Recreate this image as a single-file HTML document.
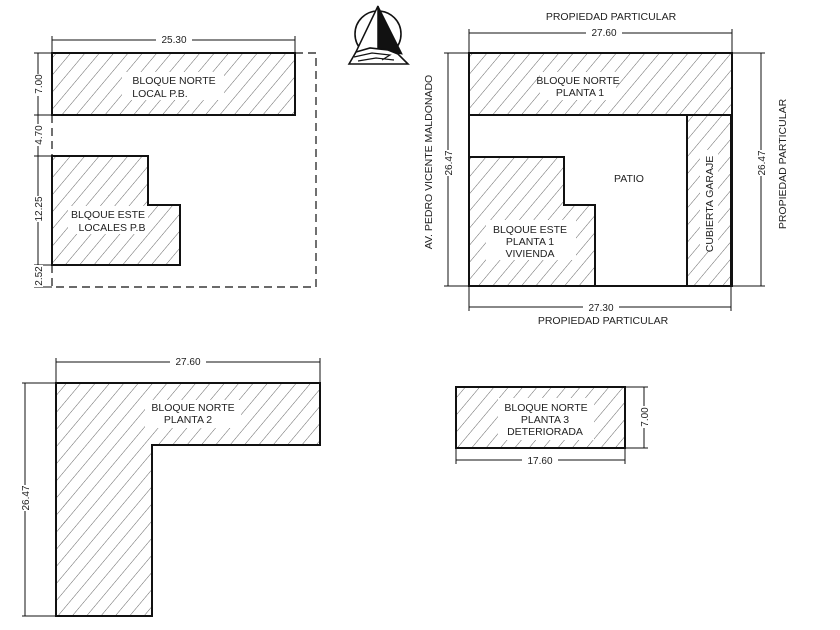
<!DOCTYPE html>
<html><head><meta charset="utf-8"><style>
html,body{margin:0;padding:0;background:#fff}
svg{display:block}
text{font-family:"Liberation Sans",sans-serif;fill:#222}
</style></head><body>
<svg width="840" height="630" viewBox="0 0 840 630" xmlns="http://www.w3.org/2000/svg">
<defs>
<pattern id="h" patternUnits="userSpaceOnUse" width="11" height="11" patternTransform="rotate(40)">
<rect width="11" height="11" fill="#fff"/>
<line x1="0" y1="0" x2="0" y2="11" stroke="#666" stroke-width="1"/>
</pattern>
</defs>
<g stroke="#111" fill="none">
<rect x="52" y="53" width="243" height="62" fill="url(#h)" stroke-width="2"/>
<path d="M52 156 H148 V205 H180 V265 H52 Z" fill="url(#h)" stroke-width="2"/>
<path d="M295 53 H316 V287 H52 V265 M52 115 V156" stroke-dasharray="8,5" stroke-width="1.2"/>
<path d="M52 40 H295 M52 36 V53 M295 36 V53" stroke-width="1"/>
<path d="M38 53 V287 M34 53 H52 M34 115 H52 M34 156 H52 M34 265 H52 M34 287 H52" stroke-width="1"/>
<circle cx="378" cy="34" r="23" stroke-width="1.6"/>
<polygon points="378,6 354,56 378,52" fill="#fff" stroke-width="1.5"/>
<polygon points="378,6 402,54 378,50" fill="#111" stroke-width="1"/>
<path d="M349 64 L356 52 L370 48 L388 50 L398 54 L408 64 Z" fill="#fff" stroke-width="1.6"/>
<path d="M354 57 L372 53 L390 55 L382 60 M358 61 L376 58 L394 60" stroke-width="1.2"/>
<rect x="469" y="53" width="263" height="62" fill="url(#h)" stroke-width="2"/>
<rect x="687" y="115" width="44" height="171" fill="url(#h)" stroke-width="2"/>
<path d="M469 157 H564 V205 H595 V286 H469 Z" fill="url(#h)" stroke-width="2"/>
<rect x="469" y="53" width="263" height="233" stroke-width="2"/>
<path d="M469 33 H732 M469 29 V53 M732 29 V53" stroke-width="1"/>
<path d="M469 307 H731 M469 286 V311 M731 286 V311" stroke-width="1"/>
<path d="M448 53 V286 M444 53 H469 M444 286 H469" stroke-width="1"/>
<path d="M761 53 V286 M732 53 H765 M732 286 H765" stroke-width="1"/>
<path d="M56 383 H320 V445 H152 V616 H56 Z" fill="url(#h)" stroke-width="2"/>
<path d="M56 362 H320 M56 358 V383 M320 358 V383" stroke-width="1"/>
<path d="M25 383 V616 M22 383 H56 M22 616 H56" stroke-width="1"/>
<rect x="456" y="387" width="169" height="61" fill="url(#h)" stroke-width="2"/>
<path d="M456 460 H625 M456 448 V464 M625 448 V464" stroke-width="1"/>
<path d="M644 387 V448 M625 387 H648 M625 448 H648" stroke-width="1"/>
</g>
<g fill="#fff">
<rect x="122" y="72" width="102" height="28"/>
<rect x="68" y="206" width="80" height="28"/>
<rect x="540" y="72" width="76" height="28"/>
<rect x="486" y="220" width="90" height="40"/>
<rect x="145" y="400" width="96" height="28"/>
<rect x="498" y="398" width="96" height="42"/>
<rect x="700" y="150" width="18" height="100"/>
<rect x="156" y="34" width="36" height="10"/><rect x="586" y="27" width="36" height="10"/>
<rect x="583" y="302" width="36" height="10"/><rect x="170" y="356" width="36" height="10"/>
<rect x="522" y="455" width="36" height="10"/>
<rect x="33" y="74" width="10" height="22"/><rect x="33" y="124" width="10" height="22"/>
<rect x="33" y="196" width="10" height="26"/><rect x="33" y="265" width="10" height="22"/>
<rect x="443" y="150" width="10" height="26"/><rect x="756" y="150" width="10" height="26"/>
<rect x="20" y="485" width="10" height="26"/><rect x="639" y="406" width="10" height="22"/>
</g>
<g font-size="10" text-anchor="middle">
<text x="174" y="43">25.30</text>
<text x="604" y="36">27.60</text>
<text x="601" y="311">27.30</text>
<text x="188" y="365">27.60</text>
<text x="540" y="464">17.60</text>
<text transform="translate(42,84) rotate(-90)">7.00</text>
<text transform="translate(42,135) rotate(-90)">4.70</text>
<text transform="translate(42,209) rotate(-90)">12.25</text>
<text transform="translate(42,276) rotate(-90)">2.52</text>
<text transform="translate(452,163) rotate(-90)">26.47</text>
<text transform="translate(765,163) rotate(-90)">26.47</text>
<text transform="translate(29,498) rotate(-90)">26.47</text>
<text transform="translate(648,417) rotate(-90)">7.00</text>
</g>
<g font-size="10.5" text-anchor="middle">
<text x="174" y="84">BLOQUE NORTE</text>
<text x="160" y="97">LOCAL P.B.</text>
<text x="108" y="218">BLQOUE ESTE</text>
<text x="112" y="231">LOCALES P.B</text>
<text x="611" y="20">PROPIEDAD PARTICULAR</text>
<text x="578" y="84">BLOQUE NORTE</text>
<text x="580" y="96">PLANTA 1</text>
<text x="629" y="182">PATIO</text>
<text x="530" y="233">BLQOUE ESTE</text>
<text x="530" y="245">PLANTA 1</text>
<text x="530" y="257">VIVIENDA</text>
<text transform="translate(713,204) rotate(-90)">CUBIERTA GARAJE</text>
<text x="603" y="324">PROPIEDAD PARTICULAR</text>
<text transform="translate(432,162) rotate(-90)">AV. PEDRO VICENTE MALDONADO</text>
<text transform="translate(786,164) rotate(-90)">PROPIEDAD PARTICULAR</text>
<text x="193" y="411">BLOQUE NORTE</text>
<text x="188" y="423">PLANTA 2</text>
<text x="546" y="411">BLOQUE NORTE</text>
<text x="545" y="423">PLANTA 3</text>
<text x="545" y="435">DETERIORADA</text>
</g>
</svg>
</body></html>
